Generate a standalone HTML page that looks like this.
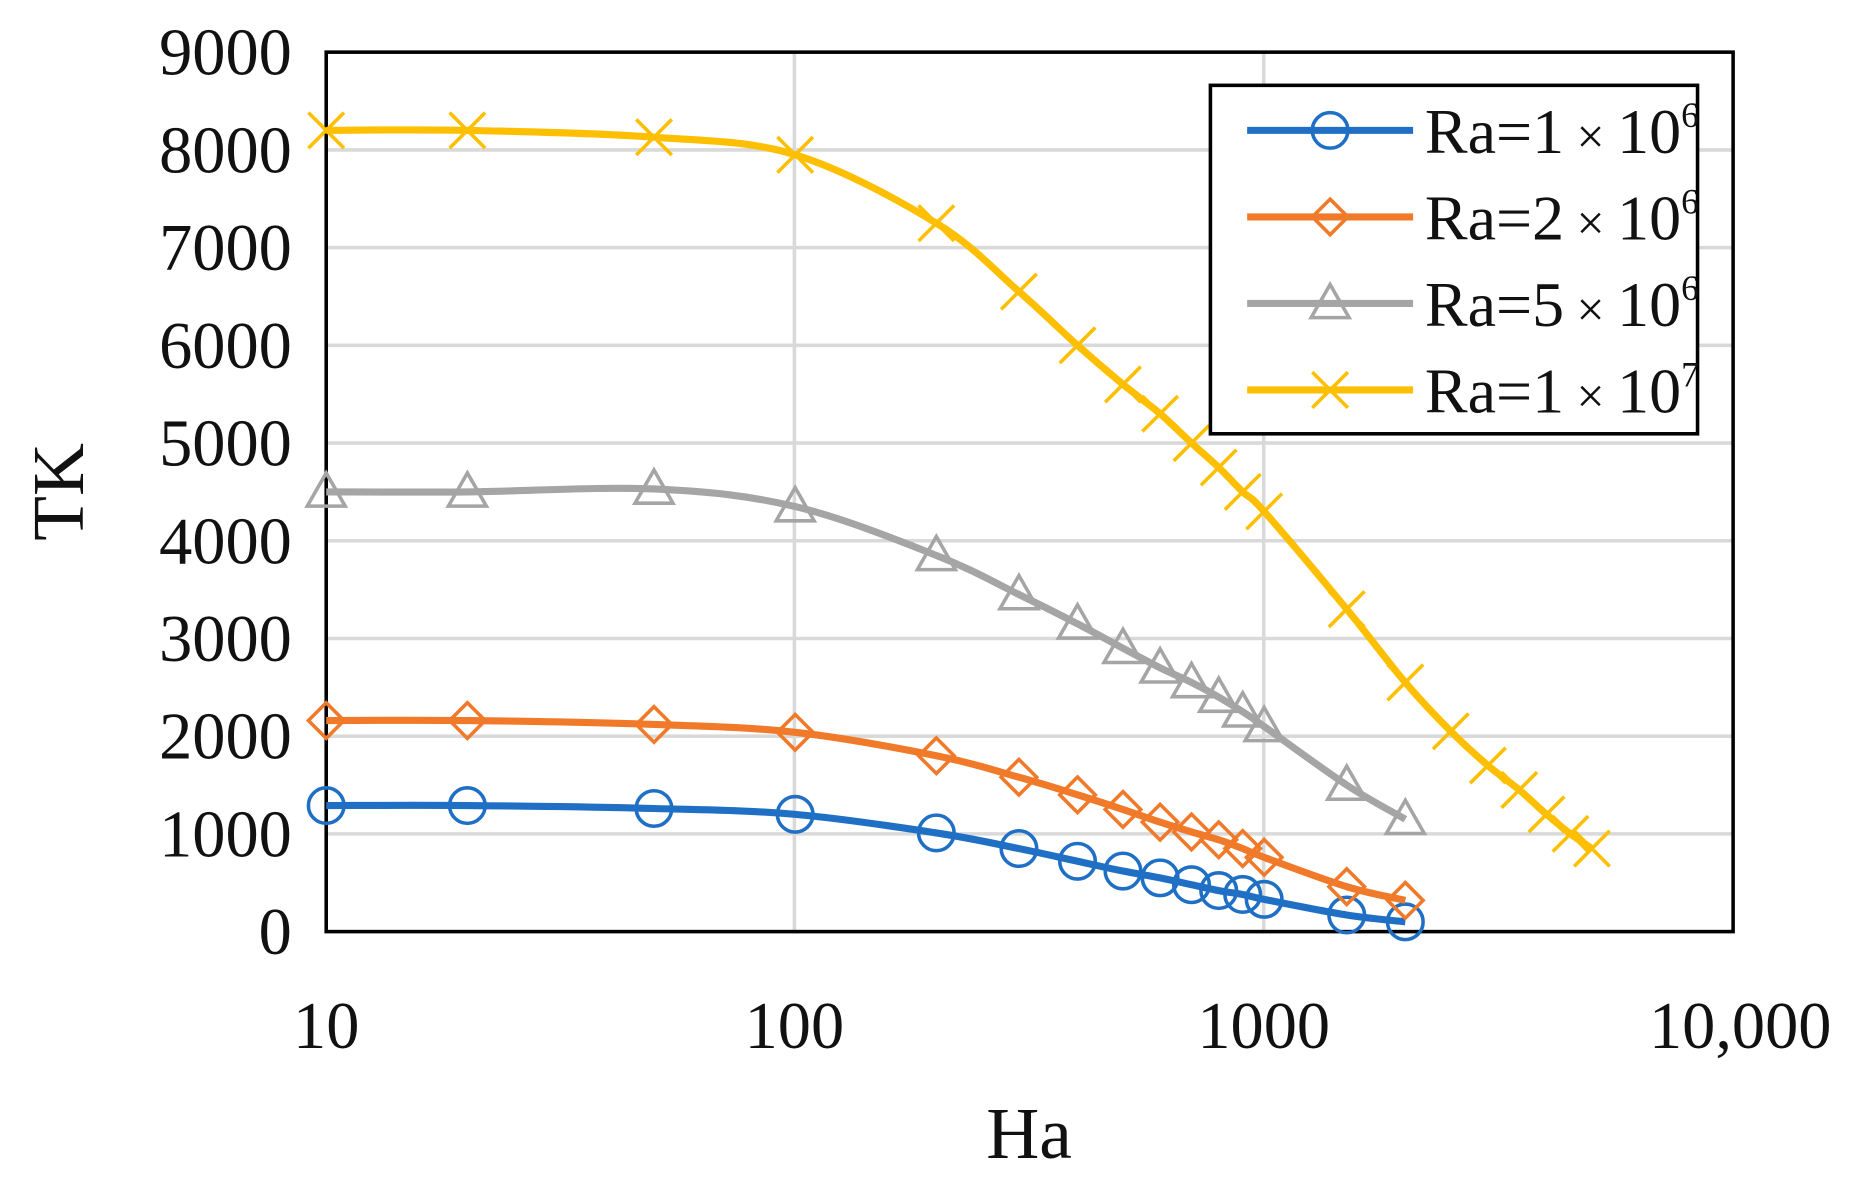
<!DOCTYPE html>
<html><head><meta charset="utf-8"><style>html,body{margin:0;padding:0;background:#fff}svg{display:block}</style></head>
<body>
<svg id="s" width="1859" height="1190" viewBox="0 0 1568 1004" xmlns="http://www.w3.org/2000/svg" font-family="Liberation Serif, serif">
<rect width="1568" height="1004" fill="#fff"/>
<g id="grid" stroke="#d9d9d9" stroke-width="3"></g>
<rect x="275" y="44" width="1187" height="742" fill="none" stroke="#000" stroke-width="3"/>
<g id="series"></g>
<g font-size="56" fill="#111" text-anchor="end" id="ylab"></g>
<g font-size="56" fill="#111" text-anchor="middle">
<text x="275" y="884">10</text><text x="670" y="884">100</text><text x="1066" y="884">1000</text><text x="1468" y="884">10,000</text>
</g>
<text x="868" y="977" font-size="62" text-anchor="middle" fill="#111">Ha</text>
<text transform="translate(70,415) rotate(-90)" font-size="62" text-anchor="middle" fill="#111">TK</text>
<rect x="1021" y="72" width="411" height="294" fill="#fff" stroke="#000" stroke-width="3"/>
<g id="leg" font-size="54" fill="#111"></g>
</svg>
<script>
const NS="http://www.w3.org/2000/svg";
const X=v=>275+395.67*(Math.log10(v)-1), Y=v=>786-v*0.08244;
function el(t,a,p){const e=document.createElementNS(NS,t);for(const k in a)e.setAttribute(k,a[k]);p.appendChild(e);return e;}
const g=document.getElementById('grid');
for(let i=1;i<9;i++)el('line',{x1:275,x2:1462,y1:Y(i*1000),y2:Y(i*1000)},g);
[670,1066].forEach(x=>el('line',{x1:x,x2:x,y1:44,y2:786},g));
const yl=document.getElementById('ylab');
for(let i=0;i<=9;i++){const t=el('text',{x:246,y:Y(i*1000)+19},yl);t.textContent=i*1000;}
const H=[10,20,50,100,200,300,400,500,600,700,800,900,1000,1500,2000];
const S=[
{c:'#1f6fc5',m:'o',x:H,y:[1290,1290,1260,1200,1010,850,720,620,550,480,420,380,330,170,100],l:'1',e:'6'},
{c:'#f07a2a',m:'d',x:H,y:[2160,2160,2120,2040,1800,1580,1400,1250,1120,1020,940,850,760,460,320],l:'2',e:'6'},
{c:'#a5a5a5',m:'t',x:H,y:[4500,4500,4530,4350,3850,3450,3150,2900,2700,2550,2400,2250,2100,1500,1150],l:'5',e:'6'},
{c:'#fdbf00',m:'x',x:H.concat([2500,3000,3500,4000,4500,5000]),y:[8200,8200,8130,7950,7250,6550,6000,5600,5300,5000,4750,4500,4300,3300,2550,2050,1700,1450,1200,1000,850],l:'1',e:'7'}];
const sg=document.getElementById('series');
function marker(m,x,y,c,p){
 const a={fill:'none',stroke:c,'stroke-width':3};
 if(m=='o')el('circle',Object.assign({cx:x,cy:y,r:15},a),p);
 else if(m=='d')el('polygon',Object.assign({points:`${x},${y-15} ${x+15},${y} ${x},${y+15} ${x-15},${y}`},a),p);
 else if(m=='t')el('polygon',Object.assign({points:`${x},${y-16} ${x+16},${y+12} ${x-16},${y+12}`},a),p);
 else{el('line',Object.assign({x1:x-15,y1:y-15,x2:x+15,y2:y+15},a),p);el('line',Object.assign({x1:x-15,y1:y+15,x2:x+15,y2:y-15},a),p);}
}
S.forEach(s=>{
 const P=s.x.map((v,i)=>[X(v),Y(s.y[i])]);
 let d=`M${P[0][0]},${P[0][1]}`;
 for(let i=0;i<P.length-1;i++){
  const p0=P[Math.max(0,i-1)],p1=P[i],p2=P[i+1],p3=P[Math.min(P.length-1,i+2)];
  const t=0.5/3;
  d+=` C${p1[0]+(p2[0]-p0[0])*t},${p1[1]+(p2[1]-p0[1])*t} ${p2[0]-(p3[0]-p1[0])*t},${p2[1]-(p3[1]-p1[1])*t} ${p2[0]},${p2[1]}`;
 }
 el('path',{d:d,fill:'none',stroke:s.c,'stroke-width':6},sg);
 P.forEach(p=>marker(s.m,p[0],p[1],s.c,sg));
});
const lg=document.getElementById('leg');
S.forEach((s,i)=>{
 const y=110+i*73;
 el('line',{x1:1052,x2:1192,y1:y,y2:y,stroke:s.c,'stroke-width':6},lg);
 marker(s.m,1122,y,s.c,lg);
 const t=el('text',{x:1202,y:y+19},lg);
 t.innerHTML=`Ra=${s.l}<tspan font-size="42"> × </tspan>10<tspan font-size="30" dy="-22">${s.e}</tspan>`;
});
</script>
</body></html>
